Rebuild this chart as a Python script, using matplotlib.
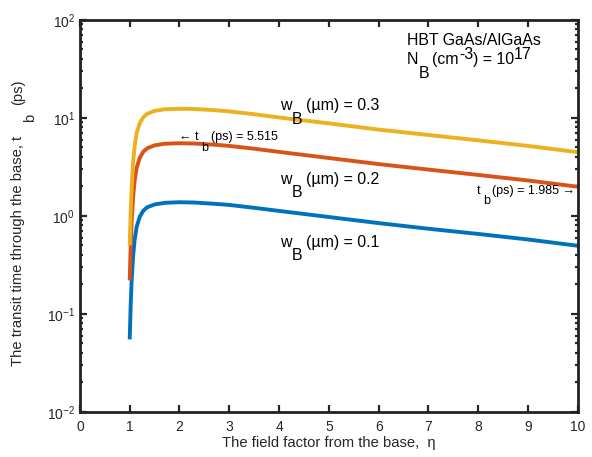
import math
import matplotlib.pyplot as plt
import matplotlib.transforms as mtransforms

plt.rcParams['font.family'] = ['Liberation Sans', 'DejaVu Sans']
plt.rcParams['mathtext.fontset'] = 'custom'
plt.rcParams['mathtext.rm'] = 'Liberation Sans'
plt.rcParams['mathtext.it'] = 'Liberation Sans'
plt.rcParams['mathtext.default'] = 'regular'

# field factor eta
eta = [1.0, 1.02, 1.04, 1.07, 1.1, 1.14, 1.2, 1.27, 1.35, 1.5, 1.7, 2.0,
       2.3, 2.7, 3.0, 3.5, 4.0, 5.0, 6.0, 7.0, 8.0, 9.0, 10.0]

# transit time t_b (ps) for each base width
tb_01 = [0.055, 0.125, 0.225, 0.4, 0.575, 0.775, 0.975, 1.125, 1.225, 1.31, 1.36, 1.38,
         1.37, 1.33, 1.295, 1.21, 1.125, 0.975, 0.845, 0.74, 0.655, 0.575, 0.496]
tb_02 = [0.22, 0.5, 0.9, 1.6, 2.3, 3.1, 3.9, 4.5, 4.9, 5.25, 5.45, 5.515,
         5.48, 5.33, 5.18, 4.85, 4.5, 3.9, 3.38, 2.97, 2.62, 2.3, 1.985]
tb_03 = [0.5, 1.12, 2.0, 3.6, 5.2, 7.0, 8.8, 10.1, 11.0, 11.8, 12.25, 12.4,
         12.33, 12.0, 11.65, 10.9, 10.1, 8.8, 7.6, 6.7, 5.9, 5.18, 4.47]

fig = plt.figure(figsize=(5.92, 4.57), dpi=100)
ax = fig.add_axes([0.135, 0.0985, 0.841, 0.858])
renderer = fig.canvas.get_renderer()


def rich(x, y, parts, fs, transform=None, rotation=0, ha='left', color='black'):
    # MATLAB-like tex text: parts = (text, shift in em, gap before in em)
    if transform is None:
        transform = ax.transData
    th = math.radians(rotation)
    ux, uy = math.cos(th), math.sin(th)
    nx, ny = -math.sin(th), math.cos(th)
    objs = []
    for s, shift, gap in parts:
        t = ax.text(x, y, s, fontsize=fs, transform=transform, rotation=rotation,
                    rotation_mode='anchor', ha='left', va='baseline', color=color,
                    clip_on=False)
        bb = t.get_window_extent(renderer)
        w = bb.height if rotation == 90 else bb.width
        objs.append((t, shift, gap, w * 72 / fig.dpi))
    total = sum(g * fs + w for _, _, g, w in objs)
    adv = -total if ha == 'right' else (-total / 2 if ha == 'center' else 0)
    for t, shift, gap, w in objs:
        adv += gap * fs
        dx = adv * ux + shift * fs * nx
        dy = adv * uy + shift * fs * ny
        t.set_transform(mtransforms.offset_copy(transform, fig, x=dx, y=dy, units='points'))
        adv += w


lw = 2.8
ax.semilogy(eta, tb_01, color='#0072BD', lw=lw, solid_capstyle='butt')
ax.semilogy(eta, tb_02, color='#D95319', lw=lw, solid_capstyle='butt')
ax.semilogy(eta, tb_03, color='#EDB120', lw=lw, solid_capstyle='butt')

ax.set_xlim(0, 10)
ax.set_ylim(1e-2, 1e2)
ax.set_xticks(range(0, 11))
ax.tick_params(which='both', direction='in', top=True, right=True, width=1.6,
               labelsize=10, colors='#262626')
ax.tick_params(which='major', length=5)
ax.tick_params(which='minor', length=2.5)
ax.tick_params(axis='x', pad=6)
for s in ax.spines.values():
    s.set_linewidth(2.0)
    s.set_color('#222222')

ax.set_xlabel('The field factor from the base,  \u03b7', fontsize=10.6, labelpad=1, color='#262626')

# y label drawn as rich text in axes coordinates
sub, sp = -0.85, 0.2
rich(-0.117, 0.483, [('The transit time through the base, t', 0, 0), ('b', sub, 0.9),
                     ('(ps)', 0, 0.6)], 10.6, transform=ax.transAxes, rotation=90,
     ha='center', color='#262626')

fs = 11.4
rich(6.56, 55.3, [('HBT GaAs/AlGaAs', 0, 0)], fs)
rich(6.56, 35.4, [('N', 0, 0), ('B', sub, 0.05), ('(cm', 0, sp), ('-3', 0.3, 0),
                  (') = 10', 0, 0), ('17', 0.3, 0)], fs)
rich(4.02, 12.0, [('w', 0, 0), ('B', sub, 0.03), ('(\u00b5m) = 0.3', 0, sp)], fs)
rich(4.02, 2.12, [('w', 0, 0), ('B', sub, 0.03), ('(\u00b5m) = 0.2', 0, sp)], fs)
rich(4.02, 0.486, [('w', 0, 0), ('B', sub, 0.03), ('(\u00b5m) = 0.1', 0, sp)], fs)
rich(2.0, 5.95, [('\u2190 t', 0, 0), ('b', sub, 0.2), ('(ps) = 5.515', 0, sp)], 9)
rich(9.95, 1.68, [('t', 0, 0), ('b', sub, 0.2), ('(ps) = 1.985 \u2192', 0, sp)], 9, ha='right')

fig.savefig('out.png', dpi=100)
